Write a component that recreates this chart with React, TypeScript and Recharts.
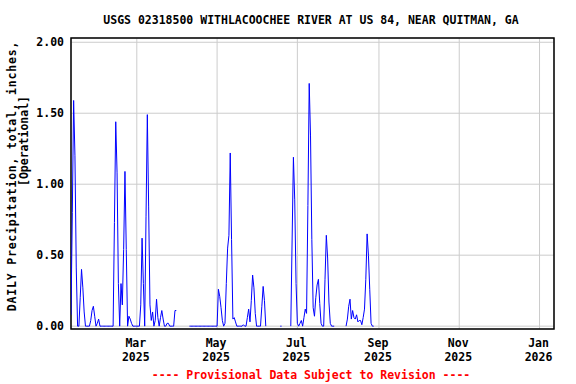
import React from 'react';
import { LineChart, Line, XAxis, YAxis, CartesianGrid, ReferenceArea } from 'recharts';

// Daily precipitation, inches. null = no record for that day.
// Each month array starts on the day given in monthStarts (day of year, Jan 1 2025 = 0).
const jan = [0.08, 0.8, 1.59, 1.2, 0.41, 0, 0, 0.2, 0.4, 0.27, 0.1, 0, 0, 0, 0, 0.04, 0.11, 0.14, 0.07, 0, 0.02, 0.05]; // from Jan 10
const feb = [0, 0, 0, 0, 0, 0, 0, 0, 0, 0, 0, 0.73, 1.44, 1.08, 0.3, 0, 0.3, 0.15, 0.54, 1.09, 0.54, 0, 0.07, 0.05, 0.02, 0, 0, 0];
const mar = [0, 0, 0, 0.15, 0.62, 0.3, 0, 0.77, 1.49, 0.84, 0.15, 0.04, 0.1, 0, 0.04, 0.19, 0.06, 0, 0.06, 0.11, 0.05, 0, 0, 0.02, 0.02, 0, 0, 0, 0, 0.11, 0.11];
const apr = [null, null, null, null, null, null, null, null, null, 0, 0, 0, 0, 0, 0, 0, 0, 0, 0, 0, 0, 0, 0, 0, 0, 0, 0, 0, 0, 0];
const may = [0, 0.26, 0.21, 0.13, 0.04, 0, 0.02, 0.3, 0.55, 0.64, 1.22, 0.61, 0.05, 0.06, 0.03, 0, 0, 0, 0, 0, 0.01, 0, 0, 0.06, 0.12, 0.03, 0.18, 0.36, 0.27, 0.09, 0];
const jun = [0, 0, 0, 0.14, 0.28, 0.18, 0, null, null, null, null, null, null, null, null, null, null, 0, 0, null, null, null, null, null, null, 0, 0.6, 1.19, 0.89, 0.3];
const jul = [0.02, 0, 0.02, 0.04, 0, 0.06, 0.12, 0.09, 0.85, 1.71, 1.34, 0.61, 0.13, 0.07, 0.2, 0.29, 0.33, 0.16, 0.02, 0, 0, 0.33, 0.64, 0.48, 0.17, 0.02, 0, 0, 0, null, null];
const aug = [null, null, null, null, null, null, 0, 0.05, 0.14, 0.19, 0.05, 0.11, 0.06, 0.05, 0.08, 0.03, 0.04, 0.04, 0.01, 0.06, 0.12, 0.33, 0.65, 0.5, 0.26, 0.02, 0, 0, null, null, null];

const monthStarts = [9, 31, 59, 90, 120, 151, 181, 212];
const monthValues = [jan, feb, mar, apr, may, jun, jul, aug];

const xTicks = [59, 120, 181, 243, 304, 365];
const xTickMonths = ['Mar', 'May', 'Jul', 'Sep', 'Nov', 'Jan'];
const xTickYears = ['2025', '2025', '2025', '2025', '2025', '2026'];
const yTicks = [0, 0.5, 1, 1.5, 2];

const data: { day: number; value: number | null }[] = [];
monthValues.forEach((vals, i) => {
  vals.forEach((v, j) => data.push({ day: monthStarts[i] + j, value: v }));
});

const FONT = '"DejaVu Sans Mono", monospace';

function MonthTick({ x, y, payload }: any) {
  const i = xTicks.indexOf(payload.value);
  return (
    <text x={x - 1} y={y} textAnchor="middle" fontFamily={FONT} fontWeight="bold" fontSize={11.5} fill="#000">
      <tspan x={x - 1} dy={18}>{xTickMonths[i]}</tspan>
      <tspan x={x - 1} dy={14}>{xTickYears[i]}</tspan>
    </text>
  );
}

export default function App() {
  return (
    <div style={{ position: 'absolute', left: 0, top: 0, width: 576, height: 384, background: '#fff' }}>
      <LineChart width={576} height={384} data={data} margin={{ top: 38, right: 22, bottom: 0, left: 0 }}>
        <CartesianGrid stroke="#cccccc" strokeWidth={1} />
        <XAxis
          dataKey="day"
          type="number"
          domain={[9, 376]}
          ticks={xTicks}
          interval={0}
          allowDataOverflow
          height={55}
          tickLine={false}
          axisLine={false}
          tickSize={0}
          tickMargin={0}
          tick={<MonthTick />}
        />
        <YAxis
          type="number"
          domain={[-0.02, 2.03]}
          ticks={yTicks}
          interval={0}
          allowDataOverflow
          width={71}
          tickLine={false}
          axisLine={false}
          tickSize={0}
          tickMargin={7}
          tickFormatter={(v: number) => v.toFixed(2)}
          tick={{ fill: '#000', fontSize: 11.5, fontFamily: FONT, fontWeight: 'bold' }}
        />
        <Line
          type="linear"
          dataKey="value"
          stroke="#0000ff"
          strokeWidth={1}
          dot={false}
          connectNulls={false}
          isAnimationActive={false}
        />
        <ReferenceArea x1={9} x2={376} y1={-0.02} y2={2.03} fill="none" stroke="#000" strokeWidth={1.5} />
      </LineChart>
      <svg width={576} height={384} style={{ position: 'absolute', left: 0, top: 0, pointerEvents: 'none' }}>
        <text x={311} y={24} textAnchor="middle" fontFamily={FONT} fontWeight="bold" fontSize={11.5} fill="#000">
          USGS 02318500 WITHLACOOCHEE RIVER AT US 84, NEAR QUITMAN, GA
        </text>
        <text transform="translate(16,176) rotate(-90)" textAnchor="middle" fontFamily={FONT} fontWeight="bold" fontSize={11.5} letterSpacing={0.8} fill="#000">
          DAILY Precipitation, total, inches,
        </text>
        <text transform="translate(28,141) rotate(-90)" textAnchor="middle" fontFamily={FONT} fontWeight="bold" fontSize={11.5} fill="#000">
          [Operational]
        </text>
        <text x={311} y={379} textAnchor="middle" fontFamily={FONT} fontWeight="bold" fontSize={11.5} fill="#ff0000">
          ---- Provisional Data Subject to Revision ----
        </text>
      </svg>
    </div>
  );
}
